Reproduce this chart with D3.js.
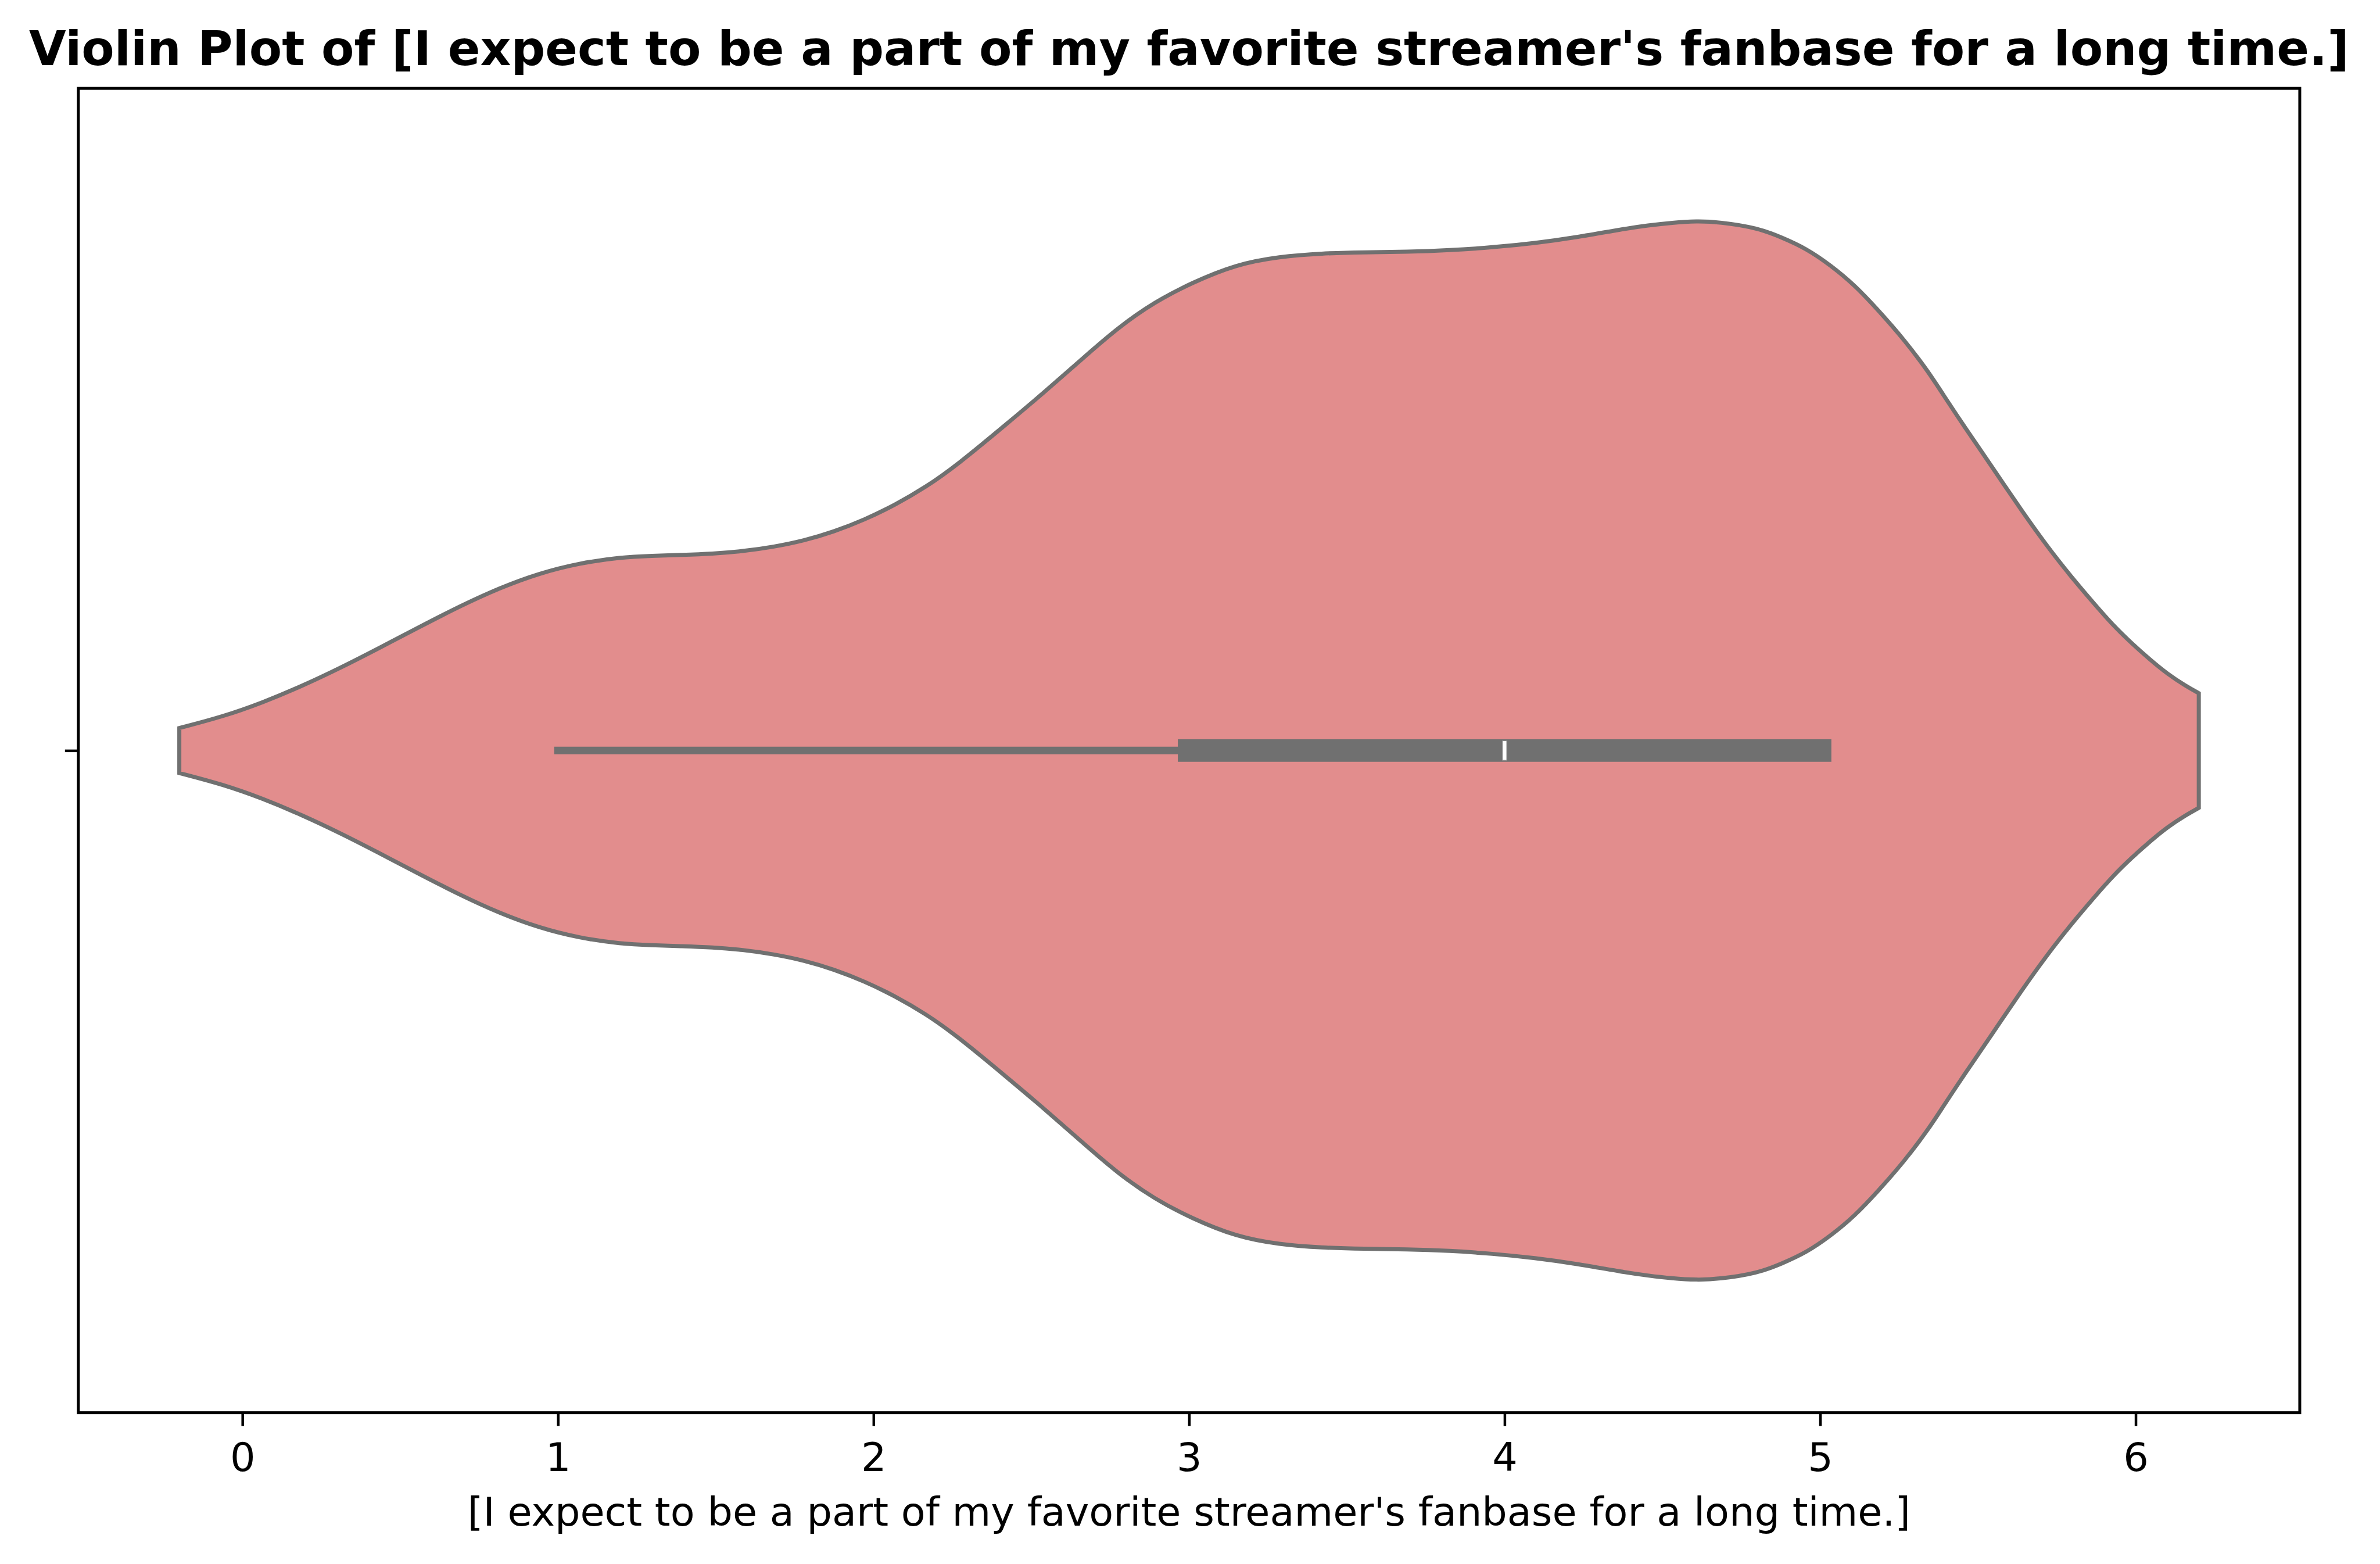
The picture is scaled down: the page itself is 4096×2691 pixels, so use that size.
<!DOCTYPE html>
<html>
<head>
<meta charset="utf-8">
<script src="https://cdn.jsdelivr.net/npm/d3@7"></script>
<style>
  html, body { margin: 0; padding: 0; background: #ffffff; }
  svg { display: block; }
</style>
</head>
<body>
<script>
// ---------------- data ----------------
const titleText = "Violin Plot of [I expect to be a part of my favorite streamer's fanbase for a long time.]";
const xLabelText = "[I expect to be a part of my favorite streamer's fanbase for a long time.]";
const xTicks = [0, 1, 2, 3, 4, 5, 6];
const yTicks = [0];

// KDE outline of the violin: position along the axis and half-width (in category units)
const kdeX = [-0.2, -0.062, 0.064, 0.189, 0.315, 0.440, 0.564, 0.690, 0.815, 0.941,
              1.067, 1.200, 1.297, 1.393, 1.489, 1.585, 1.682, 1.779, 1.874, 1.971,
              2.068, 2.165, 2.262, 2.428, 2.545, 2.660, 2.776, 2.891, 3.008, 3.150,
              3.286, 3.421, 3.555, 3.690, 3.826, 3.961, 4.095, 4.231, 4.377, 4.454,
              4.531, 4.608, 4.680, 4.802, 4.879, 4.956, 5.033, 5.110, 5.188, 5.265,
              5.342, 5.387, 5.464, 5.522, 5.581, 5.638, 5.696, 5.753, 5.812, 5.870,
              5.927, 5.986, 6.044, 6.101, 6.159, 6.2];
const kdeHalfWidth = [0.0170, 0.0256, 0.0362, 0.0487, 0.0629, 0.0782, 0.0937, 0.1091, 0.1228, 0.1339,
                      0.1415, 0.1460, 0.1470, 0.1477, 0.1486, 0.1504, 0.1537, 0.1584, 0.1652, 0.1742,
                      0.1854, 0.1988, 0.2150, 0.2478, 0.2713, 0.2955, 0.3196, 0.3387, 0.3532, 0.3672,
                      0.3730, 0.3755, 0.3763, 0.3765, 0.3777, 0.3799, 0.3831, 0.3876, 0.3939, 0.3965,
                      0.3986, 0.3998, 0.3991, 0.3947, 0.3874, 0.3791, 0.3665, 0.3514, 0.3315, 0.3106,
                      0.2864, 0.2698, 0.2421, 0.2222, 0.2013, 0.1815, 0.1620, 0.1439, 0.1266, 0.1104,
                      0.0949, 0.0812, 0.0689, 0.0577, 0.0487, 0.0433];

// box statistics
const whiskerLow = 1, q1 = 3, median = 4, q3 = 5, whiskerHigh = 5;

// ---------------- layout ----------------
const W = 4096, H = 2691;
const S = 0.822;
const plot = { left: 164 * S, right: 4815 * S, top: 185 * S, bottom: 2957 * S };
const xDomain = [-0.52, 6.52];

const violinFill = "#e28d8d";
const lineGray = "#707070";

const svg = d3.select("body").append("svg")
  .attr("width", W).attr("height", H)
  .attr("viewBox", `0 0 ${W} ${H}`);

svg.append("rect").attr("width", W).attr("height", H).attr("fill", "#ffffff");

const x = d3.scaleLinear().domain(xDomain).range([plot.left, plot.right]);
const y = d3.scaleLinear().domain([-0.5, 0.5]).range([plot.bottom, plot.top]);

const kde = kdeX.map((v, i) => ({ v, hw: kdeHalfWidth[i] }));

// violin body
const area = d3.area()
  .x(d => x(d.v))
  .y0(d => y(-d.hw))
  .y1(d => y(d.hw))
  .curve(d3.curveBasis);

svg.append("path")
  .datum(kde)
  .attr("d", area)
  .attr("fill", violinFill)
  .attr("stroke", lineGray)
  .attr("stroke-width", 7)
  .attr("stroke-linejoin", "miter");

// whisker
svg.append("line")
  .attr("x1", x(whiskerLow)).attr("x2", x(whiskerHigh))
  .attr("y1", y(0)).attr("y2", y(0))
  .attr("stroke", lineGray)
  .attr("stroke-width", 13)
  .attr("stroke-linecap", "square");

// box (IQR)
svg.append("line")
  .attr("x1", x(q1)).attr("x2", x(q3))
  .attr("y1", y(0)).attr("y2", y(0))
  .attr("stroke", lineGray)
  .attr("stroke-width", 38.6)
  .attr("stroke-linecap", "square");

// median marker
const medW = 7.4, medH = 33.7;
svg.append("rect")
  .attr("x", x(median) - medW / 2)
  .attr("y", y(0) - medH / 2)
  .attr("width", medW).attr("height", medH)
  .attr("fill", "#ffffff")
  .attr("stroke", "#8a8a8a")
  .attr("stroke-width", 1.2);

// axes
const tickLen = 23;
const fontFamily = "'DejaVu Sans', 'Liberation Sans', sans-serif";

const xAxis = svg.append("g")
  .attr("transform", `translate(0,${plot.bottom})`)
  .call(d3.axisBottom(x).tickValues(xTicks).tickFormat(d3.format("d"))
        .tickSize(tickLen).tickPadding(29));
xAxis.select(".domain").remove();
xAxis.selectAll(".tick line").attr("stroke", "#000").attr("stroke-width", 4.5);
xAxis.selectAll(".tick text")
  .attr("fill", "#000")
  .style("font-family", fontFamily)
  .style("font-size", "68.5px");

const yAxis = svg.append("g")
  .attr("transform", `translate(${plot.left},0)`)
  .call(d3.axisLeft(y).tickValues(yTicks).tickFormat(() => "").tickSize(tickLen));
yAxis.select(".domain").remove();
yAxis.selectAll(".tick line").attr("stroke", "#000").attr("stroke-width", 4.5);

// spines
svg.append("rect")
  .attr("x", plot.left).attr("y", plot.top)
  .attr("width", plot.right - plot.left).attr("height", plot.bottom - plot.top)
  .attr("fill", "none")
  .attr("stroke", "#000")
  .attr("stroke-width", 5)
  .attr("stroke-linecap", "square");

// title
svg.append("text")
  .attr("x", (plot.left + plot.right) / 2)
  .attr("y", 136 * S)
  .attr("text-anchor", "middle")
  .style("font-family", fontFamily)
  .style("font-weight", "bold")
  .style("font-size", "82.2px")
  .attr("fill", "#000")
  .text(titleText);

// x label
svg.append("text")
  .attr("x", (plot.left + plot.right) / 2)
  .attr("y", 3194 * S)
  .attr("text-anchor", "middle")
  .style("font-family", fontFamily)
  .style("font-size", "68.5px")
  .attr("fill", "#000")
  .text(xLabelText);
</script>
</body>
</html>
